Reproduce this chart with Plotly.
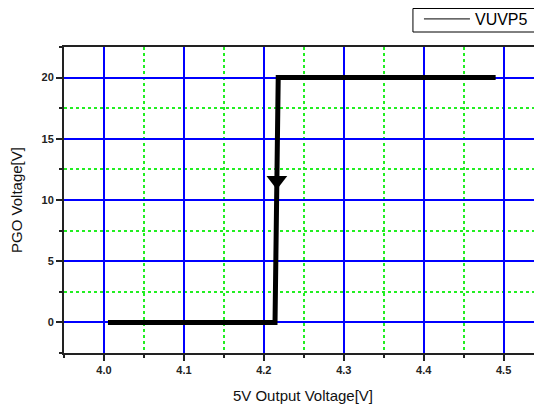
import plotly.graph_objects as go

# Data
x_vals = [4.005, 4.214, 4.218, 4.49]
y_vals = [0, 0, 20, 20]
arrow_x = [4.2163]
arrow_y = [11.6]
series_name = "VUVP5"

fig = go.Figure()
fig.add_trace(go.Scatter(x=x_vals, y=y_vals, mode="lines",
                         line=dict(color="black", width=5),
                         showlegend=False, hoverinfo="skip"))
fig.add_trace(go.Scatter(x=arrow_x, y=arrow_y, mode="markers",
                         marker=dict(symbol="triangle-down", size=18, color="black",
                                     line=dict(width=0)),
                         showlegend=False, hoverinfo="skip"))
fig.add_trace(go.Scatter(x=[None], y=[None], mode="lines",
                         line=dict(color="black", width=1), name=series_name))

axis_common = dict(
    showline=True, linecolor="#222222", linewidth=2,
    ticks="outside", ticklen=6, tickwidth=1.5, tickcolor="#222222",
    showgrid=True, gridcolor="#0000ff", gridwidth=1.5,
    zeroline=False, automargin=False,
    tickfont=dict(family="Liberation Sans, Arial", size=11, color="#222222", weight="bold"),
)

minor_common = dict(showgrid=True, gridcolor="#22ee22", griddash="dot",
                    gridwidth=1.5, ticks="outside", ticklen=3, tickcolor="#222222")

fig.update_xaxes(
    range=[3.95, 4.548], tick0=4.0, dtick=0.1, tickformat=".1f", mirror=True,
    minor=dict(dtick=0.05, tick0=3.95, **minor_common),
    title=dict(text="5V Output Voltage[V]", font=dict(family="Liberation Sans, Arial", size=15, color="#111111")),
    **axis_common,
)
fig.update_yaxes(
    range=[-2.5, 22.5], tick0=0, dtick=5,
    minor=dict(dtick=2.5, tick0=-2.5, **minor_common),
    title=dict(text="PGO Voltage[V]", font=dict(family="Liberation Sans, Arial", size=15, color="#111111")),
    **axis_common,
)

# Legend frame (drawn as a shape so its size matches the reference)
fig.add_shape(type="rect", xref="paper", yref="paper",
              x0=0.730, x1=1.2, y0=1.049, y1=1.1258,
              line=dict(color="black", width=1), fillcolor="white", layer="above")

fig.update_layout(
    width=542, height=406,
    margin=dict(l=56, r=8, t=39, b=61, autoexpand=False),
    plot_bgcolor="white", paper_bgcolor="white",
    legend=dict(x=0.7426, y=1.147, xanchor="left", yanchor="top",
                borderwidth=0, bgcolor="rgba(0,0,0,0)",
                itemwidth=46,
                font=dict(family="Liberation Sans, Arial", size=16, color="black")),
)

fig.write_html("out.html")
